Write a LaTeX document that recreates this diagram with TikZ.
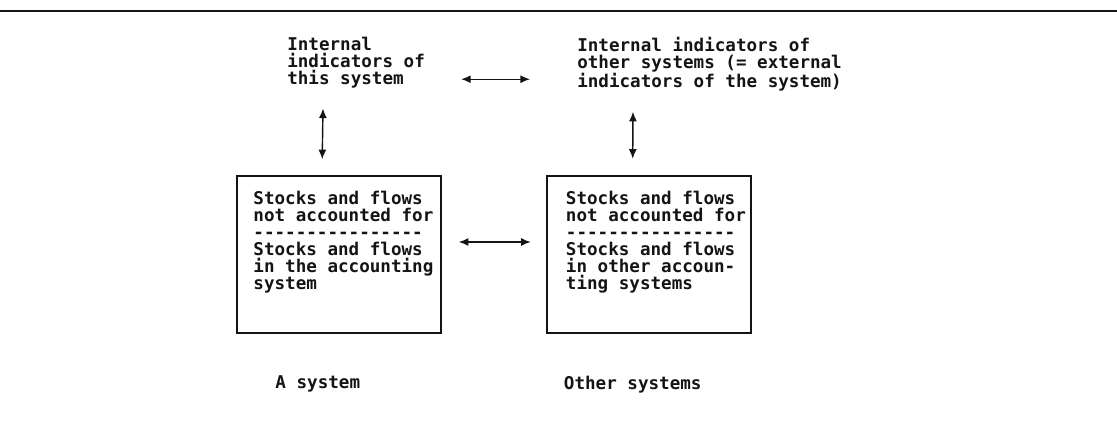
\documentclass[tikz,border=0pt]{standalone}
\usepackage{fontspec}
\setmonofont{DejaVu Sans Mono}
\usetikzlibrary{arrows.meta}
\definecolor{ink}{HTML}{141414}
\tikzset{
  txt/.style={font=\ttfamily\bfseries\fontsize{12.5pt}{12.05pt}\selectfont,align=left,inner sep=0pt,anchor=north west,text=ink},
  kasten/.style={draw=ink,line width=1.1pt,minimum width=5.1cm,minimum height=3.925cm,inner sep=0pt},
  kastenb/.style={kasten,line width=1.8pt},
  link/.style={{Latex[length=2.4mm,width=2mm]}-{Latex[length=2.4mm,width=2mm]},ink,line width=1pt},
  rule/.style={ink,line width=1.4pt},
}

\begin{document}
\begin{tikzpicture}[x=0.025cm,y=-0.025cm]
  \useasboundingbox (0,0) rectangle (1117,427);
  \draw[rule] (0,11) -- (1117,11);
  % indicators
  \node[txt] (intA) at (287,37) {Internal\\indicators of\\this system};
  \node[txt] (intB) at (577,37) {Internal indicators of\\other systems (= external\\indicators of the system)};
  % accounting boxes
  \node[kasten] (accA) at (339,254.5) {};
  \node[kastenb] (accB) at (649,254.5) {};
  \node[txt] (accAtxt) at ([shift={(17,16)}]accA.north west) {Stocks and flows\\not accounted for\\----------------\\Stocks and flows\\in the accounting\\system};
  \node[txt] (accBtxt) at ([shift={(20,16)}]accB.north west) {Stocks and flows\\not accounted for\\----------------\\Stocks and flows\\in other accoun-\\ting systems};
  \node[txt] (sysA) at ([shift={(39,42)}]accA.south west) {A system};
  \node[txt] (sysB) at ([shift={(18,42)}]accB.south west) {Other systems};
  % links
  \coordinate (topL) at ([shift={(36,16.5)}]intA.east);
  \coordinate (topR) at ([shift={(-47,0)}]intB.west);
  \draw[link] (topL) -- (topL -| topR);
  \draw[link] ([shift={(36,20)}]intA.south west) -- ([shift={(86,-16)}]accA.north west);
  \draw[link] ([shift={(56,20)}]intB.south west) -- ([shift={(87,-16)}]accB.north west);
  \draw[link] ([shift={(17,-12.5)}]accA.east) -- ([shift={(-15,-12.5)}]accB.west);
\end{tikzpicture}
\end{document}
